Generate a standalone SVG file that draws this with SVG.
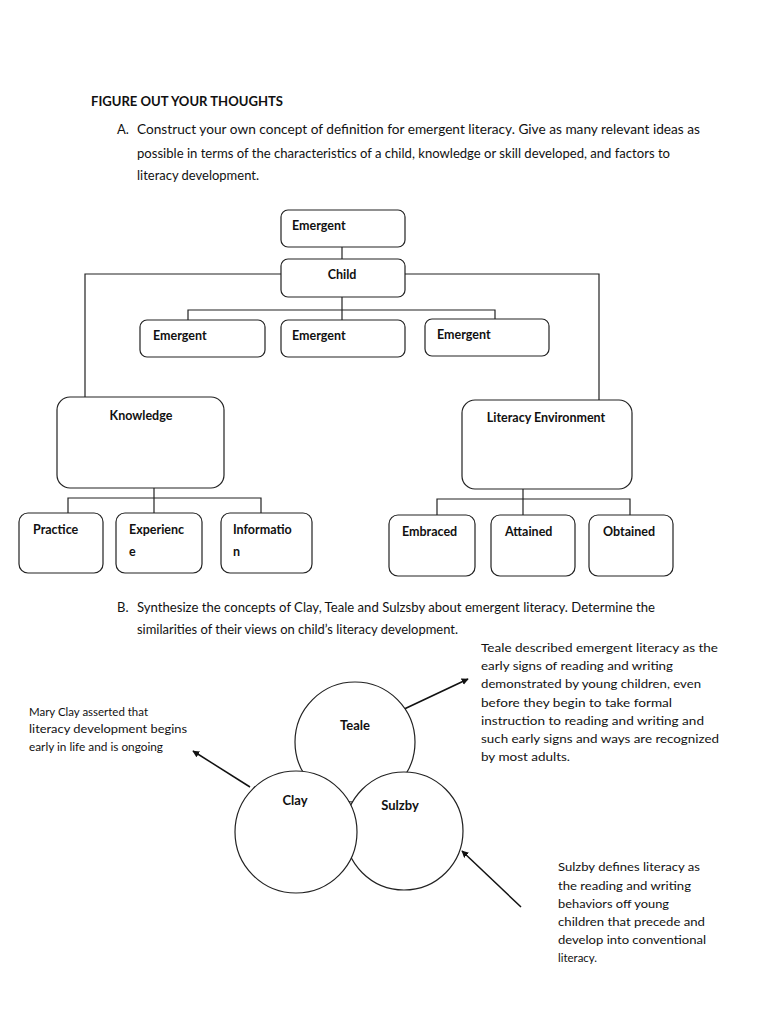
<svg xmlns="http://www.w3.org/2000/svg" width="768" height="1024" viewBox="0 0 768 1024">
<style>
text{font-family:Lato,"Open Sans","Liberation Sans",sans-serif;fill:#111}
.h{font-size:13px;font-weight:bold}
.p{font-size:13px}
.s{font-size:11.5px}
.b{font-size:12.5px;font-weight:bold}
.c{font-size:13px;font-weight:bold}
.box{fill:#fff;stroke:#222;stroke-width:1.2}
.ln{fill:none;stroke:#222;stroke-width:1.2}
.ar{fill:none;stroke:#111;stroke-width:1.5}
</style>
<defs>
<marker id="ah" viewBox="0 0 10 10" refX="9" refY="5" markerWidth="7" markerHeight="7" markerUnits="userSpaceOnUse" orient="auto">
<path d="M0,0 L10,5 L0,10 z" fill="#111"/>
</marker>
</defs>
<rect width="768" height="1024" fill="#fff"/>
<g id="header">
<text class="h" x="91" y="106" textLength="192" lengthAdjust="spacingAndGlyphs">FIGURE OUT YOUR THOUGHTS</text>
<text class="p" x="117" y="134">A.</text>
<text class="p" x="137" y="134" textLength="563" lengthAdjust="spacingAndGlyphs">Construct your own concept of definition for emergent literacy. Give as many relevant ideas as</text>
<text class="p" x="137" y="158" textLength="533" lengthAdjust="spacingAndGlyphs">possible in terms of the characteristics of a child, knowledge or skill developed, and factors to</text>
<text class="p" x="137" y="180" textLength="122" lengthAdjust="spacingAndGlyphs">literacy development.</text>
<text class="p" x="117" y="612">B.</text>
<text class="p" x="137" y="612" textLength="518" lengthAdjust="spacingAndGlyphs">Synthesize the concepts of Clay, Teale and Sulzsby about emergent literacy. Determine the</text>
<text class="p" x="137" y="634" textLength="321" lengthAdjust="spacingAndGlyphs">similarities of their views on child’s literacy development.</text>
</g>
<g id="connectors">
<line class="ln" x1="342" y1="247" x2="342" y2="259"/>
<polyline class="ln" points="281,274 85,274 85,397"/>
<polyline class="ln" points="405,274 599,274 599,400"/>
<line class="ln" x1="342" y1="297" x2="342" y2="320"/>
<polyline class="ln" points="188,320 188,310 495,310 495,319"/>
<line class="ln" x1="154" y1="488" x2="154" y2="513"/>
<polyline class="ln" points="68,513 68,498 261,498 261,513"/>
<line class="ln" x1="523" y1="489" x2="523" y2="515"/>
<polyline class="ln" points="437,515 437,499 630,499 630,515"/>
<line class="ar" x1="250" y1="787" x2="193" y2="751" marker-end="url(#ah)"/>
<line class="ar" x1="400" y1="711" x2="468" y2="679" marker-end="url(#ah)"/>
<line class="ar" x1="521" y1="907" x2="462" y2="851" marker-end="url(#ah)"/>
</g>
<g id="n-emergent-top"><rect class="box" x="281" y="210" width="124" height="37" rx="7"/><text class="b" x="292" y="230">Emergent</text></g>
<g id="n-child"><rect class="box" x="281" y="259" width="124" height="38" rx="7"/><text class="b" x="342" y="279" text-anchor="middle">Child</text></g>
<g id="n-emergent-1"><rect class="box" x="140" y="320" width="125" height="37" rx="7"/><text class="b" x="153" y="340">Emergent</text></g>
<g id="n-emergent-2"><rect class="box" x="281" y="320" width="124" height="37" rx="7"/><text class="b" x="292" y="340">Emergent</text></g>
<g id="n-emergent-3"><rect class="box" x="425" y="319" width="124" height="37" rx="7"/><text class="b" x="437" y="339">Emergent</text></g>
<g id="n-knowledge"><rect class="box" x="57" y="397" width="167" height="91" rx="13"/><text class="b" x="141" y="420" text-anchor="middle">Knowledge</text></g>
<g id="n-literacy-env"><rect class="box" x="462" y="400" width="170" height="89" rx="13"/><text class="b" x="546" y="422" text-anchor="middle">Literacy Environment</text></g>
<g id="n-practice"><rect class="box" x="19" y="513" width="84" height="60" rx="9"/><text class="b" x="33" y="534">Practice</text></g>
<g id="n-experience"><rect class="box" x="116" y="513" width="86" height="60" rx="9"/><text class="b" x="129" y="534">Experienc</text><text class="b" x="129" y="556">e</text></g>
<g id="n-information"><rect class="box" x="221" y="513" width="91" height="60" rx="9"/><text class="b" x="233" y="534">Informatio</text><text class="b" x="233" y="556">n</text></g>
<g id="n-embraced"><rect class="box" x="389" y="515" width="86" height="61" rx="9"/><text class="b" x="402" y="536">Embraced</text></g>
<g id="n-attained"><rect class="box" x="491" y="515" width="84" height="61" rx="9"/><text class="b" x="505" y="536">Attained</text></g>
<g id="n-obtained"><rect class="box" x="589" y="515" width="84" height="61" rx="9"/><text class="b" x="603" y="536">Obtained</text></g>
<g id="n-teale"><circle class="box" cx="355" cy="742" r="60"/><text class="c" x="355" y="730" text-anchor="middle">Teale</text></g>
<g id="n-sulzby"><circle class="box" cx="404" cy="831" r="59"/><text class="c" x="400" y="810" text-anchor="middle">Sulzby</text></g>
<g id="n-clay"><circle class="box" cx="296" cy="832" r="61"/><text class="c" x="295" y="805" text-anchor="middle">Clay</text></g>
<g id="t-clay">
<text class="s" x="29" y="716" textLength="119" lengthAdjust="spacingAndGlyphs">Mary Clay asserted that</text>
<text class="s" x="29" y="733" textLength="158" lengthAdjust="spacingAndGlyphs">literacy development begins</text>
<text class="s" x="29" y="751" textLength="134" lengthAdjust="spacingAndGlyphs">early in life and is ongoing</text>
</g>
<g id="t-teale">
<text class="s" x="481" y="652" textLength="237" lengthAdjust="spacingAndGlyphs">Teale described emergent literacy as the</text>
<text class="s" x="481" y="670" textLength="192" lengthAdjust="spacingAndGlyphs">early signs of reading and writing</text>
<text class="s" x="481" y="688" textLength="220" lengthAdjust="spacingAndGlyphs">demonstrated by young children, even</text>
<text class="s" x="481" y="707" textLength="191" lengthAdjust="spacingAndGlyphs">before they begin to take formal</text>
<text class="s" x="481" y="725" textLength="223" lengthAdjust="spacingAndGlyphs">instruction to reading and writing and</text>
<text class="s" x="481" y="743" textLength="238" lengthAdjust="spacingAndGlyphs">such early signs and ways are recognized</text>
<text class="s" x="481" y="761" textLength="89" lengthAdjust="spacingAndGlyphs">by most adults.</text>
</g>
<g id="t-sulzby">
<text class="s" x="558" y="871" textLength="142" lengthAdjust="spacingAndGlyphs">Sulzby defines literacy as</text>
<text class="s" x="558" y="890" textLength="133" lengthAdjust="spacingAndGlyphs">the reading and writing</text>
<text class="s" x="558" y="908" textLength="111" lengthAdjust="spacingAndGlyphs">behaviors off young</text>
<text class="s" x="558" y="926" textLength="147" lengthAdjust="spacingAndGlyphs">children that precede and</text>
<text class="s" x="558" y="944" textLength="148" lengthAdjust="spacingAndGlyphs">develop into conventional</text>
<text class="s" x="558" y="962" textLength="39" lengthAdjust="spacingAndGlyphs">literacy.</text>
</g>
</svg>
